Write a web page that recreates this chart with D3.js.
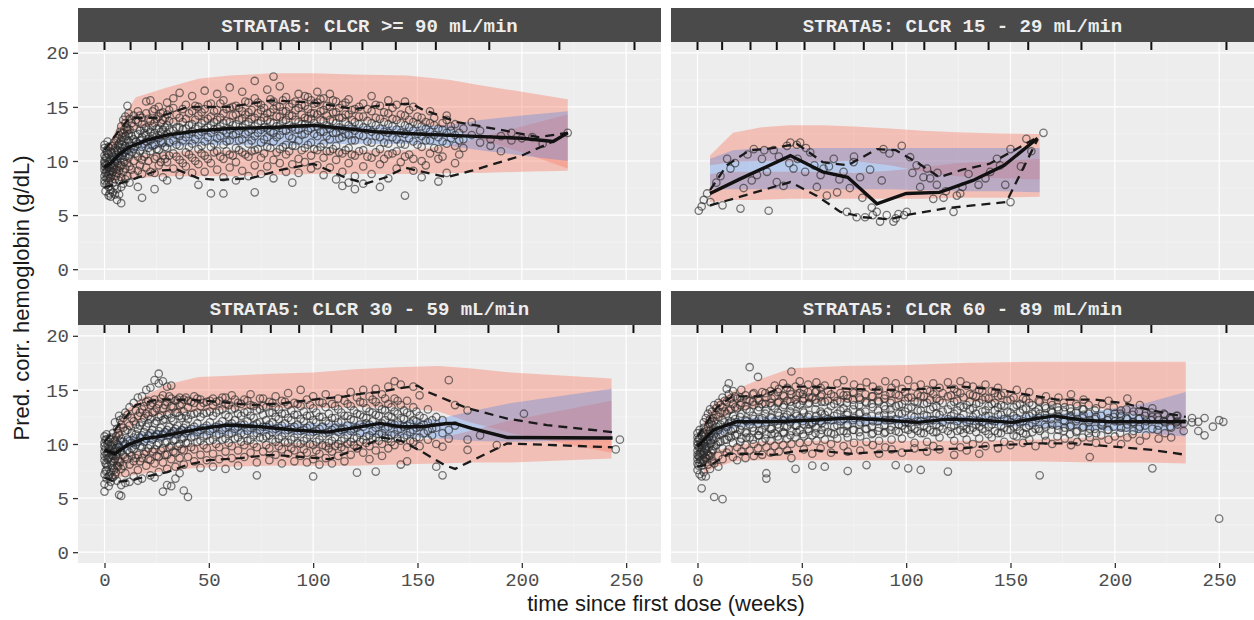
<!DOCTYPE html>
<html><head><meta charset="utf-8">
<script src="https://cdn.jsdelivr.net/npm/d3@7"></script>
<style>html,body{margin:0;padding:0;background:#fff}svg{display:block}</style>
</head><body>
<svg id="chart" width="1254" height="620"></svg>
<script>
// ================= DATA =================
const panelTitles = ["STRATA5: CLCR >= 90 mL/min","STRATA5: CLCR 15 - 29 mL/min","STRATA5: CLCR 30 - 59 mL/min","STRATA5: CLCR 60 - 89 mL/min"];
const yTickValues = [0,5,10,15,20];
const xTickValues = [0,50,100,150,200,250];
const xTitle = "time since first dose (weeks)";
const yTitle = "Pred. corr. hemoglobin (g/dL)";

// bin separators shown as rug ticks at top of each panel (weeks)
const binEdges90 = [0,12.5,24.5,37.3,50,63.7,75.7,84.4,93.2,108.4,123.6,139.6,158.8,184.4,218,254];
const binEdgesOther = [0,11.8,25.4,38,51.3,65.6,79.7,93.3,108.7,123.7,139.5,158.5,184,217.5,253.5];

// ---- observations: rows of [week, value, value, ...] ----
const obs90 = [
[0,9.2,9.8,10.5,11.2,8.6,7.9,10.0,9.5,11.5,8.2],[1,9.0,9.6,10.3,7.8,11.0,8.4,10.8,9.3],[2,8.8,9.9,10.6,7.6,6.8,11.3,9.4,8.1],
[3,9.1,10.1,8.5,7.3,6.7,10.9,9.7],[4,9.6,10.4,8.0,11.4,7.1,9.0],[5,9.8,10.9,8.3,11.2,7.7,10.0,6.9],[6,10.2,11.0,8.9,9.4,12.1,7.4,6.4],
[7,10.5,11.6,9.1,12.4,8.2,6.9],[8,10.9,9.6,11.9,13.2,8.5,7.6,6.1],[9,11.2,10.1,12.6,9.0,13.8,7.9],[10,11.4,12.3,10.4,9.3,13.5,8.3,14.1],
[11,11.0,12.8,9.8,13.0,8.6,15.1],[12,11.7,10.6,12.9,13.9,9.5,8.0],[14,12.0,11.1,13.2,10.0,14.2,8.7],[16,11.6,12.5,10.4,13.6,9.1,14.6,7.6],
[18,12.2,11.3,13.4,10.1,14.0,8.8,6.6],[20,12.4,11.8,13.1,10.6,14.4,9.4,15.5],[22,11.9,12.7,10.9,13.7,9.0,15.6],[24,12.6,11.5,13.5,10.2,14.8,8.9,7.4],
[26,12.1,13.0,11.0,14.1,9.6,15.0],[28,12.9,11.7,13.8,10.5,14.5,8.5],[30,12.5,13.3,11.2,14.3,9.9,15.4,8.2],[33,12.8,11.9,13.6,10.7,14.9,9.3,15.8],
[36,12.3,13.1,11.4,14.0,10.1,8.7,16.3],[39,13.0,12.2,13.9,10.8,15.2,9.5],[42,12.7,13.4,11.6,14.6,10.3,8.9,16.0],[45,13.2,12.4,14.2,11.1,15.0,9.7,7.8],
[48,12.9,13.7,11.8,14.8,10.5,9.0,16.5],[51,13.3,12.6,14.1,11.3,15.3,9.8,7.0],[54,13.0,12.1,13.8,10.9,14.7,9.2,16.2],[57,13.5,12.8,14.4,11.5,15.6,10.2,8.5,7.0],
[60,12.9,13.6,11.9,14.9,10.6,9.4,16.8],[63,13.4,12.5,14.3,11.2,15.1,9.9,8.2],[66,13.1,13.9,12.0,14.6,10.8,9.1,16.4],[69,13.6,12.7,14.5,11.6,15.4,10.4,8.6],
[72,13.2,12.3,14.0,11.0,15.8,9.6,7.1,17.4],[75,13.7,12.9,14.7,11.7,15.2,10.3,8.8],[78,13.0,13.8,12.2,14.4,11.3,9.5,16.6],[81,13.5,12.6,14.8,11.8,15.5,10.1,8.4,17.8],
[84,13.3,14.1,12.4,15.0,11.1,9.8,16.9],[87,13.8,12.8,14.6,11.5,15.9,10.6,9.0],[90,13.1,14.2,12.1,15.3,11.4,9.7,8.0],[93,13.6,12.9,14.9,11.9,16.2,10.2,8.9],
[96,13.4,14.0,12.5,15.1,11.2,9.9,16.0],[99,13.9,13.0,14.4,11.7,15.6,10.5,9.3],[102,13.2,14.3,12.3,15.4,11.0,9.6,16.4],[105,13.7,12.7,14.7,11.6,15.8,10.3,8.7],
[108,13.0,13.8,12.0,15.0,10.9,9.4,16.2],[111,13.5,12.6,14.5,11.4,15.5,10.1,8.3],[114,12.9,14.0,12.2,15.2,10.7,9.0,7.7],[117,13.3,12.4,14.3,11.2,15.7,9.8,8.0],
[120,12.8,13.6,11.9,14.8,10.5,8.6,7.4],[124,13.1,12.3,14.1,11.0,15.3,9.5,7.9],[128,12.7,13.5,11.7,14.6,10.3,8.8,16.0],[132,13.0,12.2,13.9,11.1,15.1,9.7,7.6],
[136,12.6,13.4,11.6,14.4,10.6,8.4,15.6],[140,12.9,12.0,13.8,10.9,15.2,9.3],[144,12.5,13.3,11.5,14.2,10.4,15.5,6.8],[148,12.8,11.8,13.6,10.2,15.0,9.1],
[152,12.3,13.2,11.3,14.0,10.0,8.5],[156,12.7,11.9,13.5,10.7,14.6],[160,12.2,13.0,11.1,8.1,10.2],[164,12.6,11.6,13.8,8.9,14.2],
[168,12.4,13.4,11.4,9.8],[172,12.0,11.2,13.0],[180,11.7,12.8],[190,12.3,10.9],[200,12.1],[210,11.6],[222,12.6],
[0.5,10.3,8.9,9.7,7.2],[1.5,9.4,10.7,8.6,11.8],[2.5,10.0,9.0,8.4,7.0],[3.5,9.5,10.8,8.7],[4.5,10.1,9.3,11.7],[5.5,10.6,9.2,11.9,8.6],
[6.5,10.9,9.8,11.4],[7.5,11.2,10.2,12.7,9.4],[8.5,11.5,10.5,12.2],[9.5,11.8,10.8,12.9,9.9],[10.5,12.0,11.0,13.1],[11.5,11.9,10.3,12.5,14.4],
[13,12.3,11.4,13.5,10.8,9.2],[15,12.4,11.8,10.7,13.8],[17,12.8,11.9,10.9,14.2,9.6],[19,12.6,11.6,13.0,10.4],[21,12.9,12.0,11.2,13.9,10.0],
[23,12.3,13.2,11.4,14.6],[25,13.0,12.2,11.1,13.9,10.4],[27,12.7,13.5,11.8,14.4,9.9],[29,13.1,12.4,11.3,14.0,10.2],[31,12.9,13.7,11.7,10.5,14.7],
[34.5,13.1,12.4,11.5,14.3,10.4],[37.5,12.9,13.6,11.9,14.8,9.8],[40.5,13.3,12.5,11.3,14.4,10.6],[43.5,13.0,13.8,12.0,15.1,10.0],
[46.5,13.5,12.7,11.4,14.5,10.7],[49.5,13.1,13.9,12.2,15.2,10.2],[52.5,13.6,12.9,11.6,14.6,10.8],[55.5,13.2,14.0,12.3,15.3,10.4],
[58.5,13.7,12.6,11.8,14.8,10.9],[61.5,13.3,14.2,12.4,15.0,10.5],[64.5,13.8,12.8,11.9,14.9,11.0],[67.5,13.4,14.3,12.5,15.5,10.6],
[70.5,13.9,12.9,11.9,14.7,10.9],[73.5,13.5,14.4,12.6,15.4,11.1],[76.5,14.0,13.1,12.0,14.9,10.7],[79.5,13.6,14.5,12.7,15.7,11.2],
[82.5,14.1,13.2,12.2,15.1,10.8],[85.5,13.7,14.6,12.8,15.6,11.3],[88.5,14.2,13.3,12.3,15.0,10.9],[91.5,13.8,14.7,12.9,15.5,11.4],
[94.5,14.3,13.4,12.4,15.2,11.0],[97.5,13.9,14.8,12.8,15.9,11.5],[100.5,14.4,13.5,12.5,15.3,11.1],[103.5,13.8,14.6,12.7,15.7,11.3],
[106.5,14.2,13.3,12.3,15.1,10.9],[109.5,13.7,14.5,12.6,15.6,11.1],[112.5,14.0,13.1,12.1,14.9,10.8],[115.5,13.6,14.3,12.5,15.4,11.0],
[118.5,13.8,13.0,11.9,14.7,10.6],[122,13.4,14.1,12.4,15.0,10.9],[126,13.7,12.9,11.8,14.8,10.4],[130,13.3,14.0,12.3,15.2,10.8],
[134,13.6,12.7,11.7,14.5,10.2],[138,13.2,13.9,12.2,14.9,10.7],[142,13.5,12.6,11.6,14.3,9.9],[146,13.1,13.8,12.1,14.7,10.6],
[150,13.4,12.5,11.5,14.1],[154,13.0,13.6,11.9,9.6],[158,13.3,12.4,11.2,14.0],[162,12.9,13.5,11.8,10.4],[166,12.8,12.1,13.2],
[170,12.6,11.9,10.6],[176,12.4,13.6],[185,12.0,11.4],[195,12.6,11.9],[205,12.2]
];
const obs29 = [
[0.6,5.4],[2,5.8],[3,6.4],[4.6,7.0],[6.2,6.2],[9,8.0],[11,8.6],[12,5.9],[14.2,10.2],[15.8,9.3],[18,9.8],[20.6,5.6],[22.1,7.5],[24,10.6],
[26,8.2],[27,11.1],[28.5,8.7],[30.9,10.2],[32,11.0],[33.3,9.0],[34.1,5.4],[36.5,11.0],[38,8.05],[39,10.4],[41.2,7.7],[42.9,11.4],[44,9.8],
[44.5,11.7],[46,9.3],[47.6,11.5],[48,10.2],[49.2,11.7],[51.6,9.0],[52,11.2],[54,10.8],[56,9.6],[57.2,7.6],[59,8.7],[60.4,9.3],[62,6.8],
[63,9.5],[65.3,10.2],[66.9,7.1],[68,8.3],[70,9.0],[71.6,5.3],[73,7.5],[74.8,9.9],[75,10.4],[76.3,4.8],[77.9,8.5],[79,6.6],[80.3,4.8],
[82.7,9.2],[83.5,5.7],[84,5.0],[85.9,5.3],[87.5,4.4],[88.3,8.2],[89.1,11.1],[90.7,5.0],[92,10.7],[93.9,4.4],[95,4.7],[96.3,5.1],[97.9,11.4],
[99,5.0],[100.3,5.3],[101.9,10.35],[103,8.9],[105,9.6],[106.7,7.6],[108.3,8.5],[110,9.3],[111.5,8.4],[113,6.5],[114.7,7.8],[115,8.9],
[117.9,6.6],[119,7.2],[122.7,5.3],[124.3,6.8],[125.9,7.0],[127,7.6],[129.9,8.8],[134.7,7.8],[138,8.4],[140.3,9.0],[143.5,10.2],[145,9.6],
[147.5,7.8],[150,6.2,11.1],[155,9.5],[157.6,12.05],[160,10.9],[165.8,12.6]
];
const obs59 = [
[0,9.3,10.1,8.5,10.7,7.2,6.3,9.8,5.6,8.9],[1,9.0,10.4,8.1,7.6,10.9,6.8],[2,8.7,9.6,7.0,10.2,6.1,9.2],[3,9.4,8.3,10.6,7.4,6.5],
[4,8.9,9.9,7.8,11.0,6.9],[5,8.6,9.5,10.3,7.1,12.0],[6,9.1,10.0,8.0,11.4,6.6],[7,9.7,8.4,10.8,5.3,12.6],[8,9.3,10.5,7.7,11.8,5.2,6.2],
[10,10.0,8.8,11.2,7.3,12.9,6.4],[12,10.3,9.2,11.7,8.1,13.4,6.5],[14,10.6,9.5,12.1,8.4,13.8,7.0],[16,10.2,11.4,9.0,12.6,7.6,14.3,6.6],
[18,10.8,9.7,12.0,8.7,13.2,14.4,6.8],[20,10.5,11.6,9.3,12.8,8.0,13.9,15.0],[22,11.0,9.9,12.3,8.5,13.6,7.1,15.2],[24,10.7,11.9,9.5,13.0,8.2,14.1,15.9,6.9],
[26,11.2,10.1,12.5,8.8,13.7,7.4,15.6,16.5],[28,10.9,12.2,9.6,13.3,8.3,14.5,5.6,15.8],[30,11.3,10.2,12.7,9.0,13.9,7.7,15.3,6.2],
[32,11.0,12.4,9.8,13.5,8.6,14.2,6.1,15.4],[34,11.4,10.4,12.9,9.2,14.0,7.9,6.8],[36,11.1,12.6,10.0,13.6,8.7,14.3,7.3],[38,11.5,10.6,13.0,9.4,14.1,8.1,5.7],
[40,11.2,12.3,10.1,13.4,8.8,14.0,5.1],[43,11.6,10.7,12.8,9.5,13.8,8.4,14.4],[46,11.3,12.5,10.3,13.5,9.0,14.1,7.8],[49,11.7,10.8,12.9,9.6,13.9,8.5],
[52,11.4,12.6,10.4,13.6,9.1,14.2,7.9],[55,11.8,10.9,13.1,9.7,14.0,8.6],[58,11.5,12.7,10.5,13.7,9.3,14.3,7.7],[61,11.9,11.0,13.2,9.8,14.5,8.7],
[64,11.6,12.8,10.6,13.8,9.4,8.0],[67,11.8,10.9,12.9,9.9,14.1,8.8],[70,11.5,12.6,10.4,13.6,9.2,14.6],[73,11.9,11.0,13.1,9.7,8.3,7.1],
[76,11.6,12.7,10.5,13.5,9.3,14.2],[79,11.8,10.8,12.9,9.6,13.9,8.5],[82,11.4,12.5,10.2,13.4,9.0,14.4],[85,11.7,10.7,12.8,9.5,14.0,8.2],
[88,11.3,12.4,10.1,13.6,9.1,14.7],[91,11.6,10.6,12.7,9.4,13.8,8.4],[94,11.2,12.3,10.0,13.5,8.9,15.0],[97,11.5,10.5,12.6,9.2,14.1,8.3],
[100,11.1,12.2,9.9,13.3,8.6,14.4,7.0],[103,11.4,10.4,12.5,9.1,13.9,8.1],[106,11.0,12.1,9.8,13.4,8.7,14.6],[109,11.3,10.3,12.4,9.3,13.7,8.2],
[112,11.1,12.0,10.0,13.2,8.9,14.2],[115,11.4,10.5,12.6,9.5,14.0,8.4],[118,11.2,12.3,10.2,13.5,9.0,14.8],[121,11.5,10.6,12.8,9.6,14.3,7.35],
[124,11.6,12.5,10.4,13.8,9.2,15.0],[127,11.8,10.8,13.0,9.8,14.4,8.6],[130,11.5,12.7,10.6,13.9,9.4,15.1,7.45],[133,11.9,11.0,13.2,10.0,14.6,8.9],
[136,11.6,12.6,10.5,13.7,9.6,15.3],[139,11.8,10.9,13.0,9.9,14.2,15.8],[142,11.4,12.4,10.3,13.6,8.1,15.5],[145,11.7,10.8,12.9,9.7,14.0,8.4],
[148,11.3,12.2,10.2,13.4,15.3],[151,11.6,10.6,12.6,9.8,14.5],[155,11.2,12.0,10.4,13.2],[159,11.5,7.9,10.0,12.5],[162,11.0,7.1,9.75,12.2],
[165,15.9,11.3,10.5],[168,11.7,13.6],[174,10.4,9.45,13.1],[180,10.8],[188,9.9],[201,12.8],[245,9.5],[247,10.4],
[0.5,9.6,8.2,10.4,7.5],[1.5,9.2,10.0,8.6,7.9],[2.5,9.5,8.8,10.5,7.2],[3.5,9.0,9.8,8.0,6.9],[4.5,9.3,10.2,8.4,7.6],[5.5,9.6,8.9,10.7,7.4],
[6.5,9.9,8.6,11.0,7.9],[7.5,9.4,10.3,8.3,12.2],[9,10.2,9.0,11.5,8.0,12.4],[11,10.4,9.4,11.3,8.6,12.7],[13,10.1,11.0,9.6,12.4,8.9],
[15,10.9,9.9,11.8,8.7,13.1],[17,10.6,11.7,9.8,12.9,8.4],[19,11.1,10.2,12.4,9.1,13.5],[21,10.8,11.9,9.6,12.6,8.6,14.0],[23,11.3,10.4,12.9,9.3,13.8],
[25,10.9,12.1,9.9,13.3,8.9],[27,11.5,10.6,12.6,9.4,14.2],[29,11.1,12.3,10.1,13.6,9.0],[31,11.6,10.8,12.8,9.7,14.4],[33,11.2,12.1,10.3,13.4,9.3],
[35,11.7,10.9,12.9,9.8,14.1],[37,11.3,12.4,10.5,13.7,9.5],[39,11.8,11.0,12.6,10.1,14.3],[41.5,11.4,12.7,10.6,13.9,9.7],[44.5,11.9,11.1,12.9,10.2,14.2],
[47.5,11.5,12.8,10.7,13.8,9.9],[50.5,12.0,11.2,13.0,10.3,14.0],[53.5,11.6,12.9,10.8,13.9,10.0],[56.5,12.1,11.3,13.2,10.4,14.3],
[59.5,11.7,12.5,10.9,13.6,10.1],[62.5,12.2,11.4,13.3,10.5,14.1],[65.5,11.8,12.6,11.0,13.7,10.2],[68.5,12.1,11.2,13.0,10.3,14.0],
[71.5,11.7,12.4,10.8,13.5,10.0],[74.5,12.0,11.3,13.2,10.6,14.2],[77.5,11.6,12.2,10.7,13.4,9.9],[80.5,12.0,11.1,12.9,10.4,13.8],
[83.5,11.5,12.3,10.5,13.2,9.8],[86.5,11.9,11.0,12.8,10.2,13.9],[89.5,11.4,12.2,10.4,13.1,9.6],[92.5,11.8,10.9,12.7,10.1,13.7],
[95.5,11.3,12.1,10.3,13.0,9.5],[98.5,11.7,10.8,12.6,10.0,13.6],[101.5,11.2,12.0,10.2,12.9,9.4],[104.5,11.6,10.7,12.5,9.9,13.8],
[107.5,11.1,11.9,10.1,12.8,9.6],[110.5,11.5,10.6,12.4,9.8,13.5],[113.5,11.3,12.1,10.3,12.9,9.7],[116.5,11.7,10.8,12.6,10.0,13.7],
[119.5,11.4,12.2,10.5,13.1,9.9],[122.5,11.8,11.0,12.7,10.2,13.9],[125.5,11.9,12.4,10.7,13.3,10.1],[128.5,12.1,11.2,12.9,10.4,14.1],
[131.5,11.8,12.6,10.9,13.5,10.3],[134.5,12.2,11.4,13.1,10.6,14.2],[137.5,11.9,12.5,10.8,13.4,10.2],[140.5,12.0,11.3,12.8,10.5,14.0],
[143.5,11.6,12.3,10.6,13.1],[146.5,11.9,11.1,12.7,10.3],[149.5,11.5,12.1,10.6,13.0],[153,11.8,11.0,12.4],[157,11.4,12.2,10.8]
];
const obs89 = [
[0,9.4,10.2,8.6,9.9,7.6,11.0,8.2,9.0,10.6],[1,9.1,10.5,8.3,7.2,9.7,11.3,8.8],[2,9.6,8.0,10.8,7.0,5.9,9.3],[3,9.2,10.1,8.5,11.5,7.4,12.0],
[4,9.8,8.7,10.9,7.0,12.4,9.5],[5,10.3,9.0,11.6,8.1,12.8],[6,10.0,11.2,8.9,12.3,7.7,13.2],[7,10.6,9.4,11.8,8.4,13.0],[8,10.9,9.8,12.1,8.2,13.6,5.1],
[10,11.3,10.2,12.5,8.9,13.8,7.9],[12,11.0,12.2,9.6,13.4,8.6,14.3,4.9],[14,11.6,10.4,12.8,9.2,13.9,15.1],[15,11.9,10.7,13.1,9.5,14.6,15.6],
[17,11.4,12.6,10.1,13.7,8.8,14.9],[19,12.0,10.9,13.3,9.7,14.2,8.5],[21,11.7,12.8,10.5,13.8,9.3,15.0],[23,12.2,11.1,13.5,9.9,14.5,8.7],
[25,11.8,13.0,10.6,14.0,9.4,17.1],[27,12.3,11.2,13.6,10.0,14.7,8.9],[29,11.9,13.1,10.8,14.2,9.6,16.2],[31,12.4,11.3,13.7,10.2,14.8,9.0],
[33,12.0,13.2,10.9,14.3,7.3,6.8,9.7],[35,12.5,11.4,13.8,10.3,14.9,9.2],[37,12.1,13.3,11.0,14.4,9.8,15.4],[39,12.6,11.5,13.9,10.4,15.1,9.3],
[41,12.2,13.4,11.1,14.5,9.9,15.6],[43,12.7,11.6,14.0,10.5,15.2,9.4],[45,12.3,13.5,11.2,14.6,10.0,16.7,8.7],[47,12.8,11.7,14.1,10.6,15.3,7.7],
[49,12.4,13.6,11.3,14.7,10.1,15.8],[51,12.9,11.8,14.2,10.7,15.0,9.5],[53,12.5,13.7,11.4,14.8,10.2,15.5],[55,12.0,11.9,14.3,10.8,8.0,9.1],
[57,12.6,13.8,11.5,14.9,10.3,15.7],[59,12.1,13.0,14.4,10.9,15.2,9.6],[61,12.7,11.6,13.9,10.4,7.9,15.4],[64,12.2,13.5,11.0,14.6,10.0,9.2],
[67,12.8,11.7,14.0,10.5,15.6],[70,12.3,13.3,11.2,14.5,9.8,15.9],[72,12.9,11.8,14.2,10.6,7.5,9.3],[75,12.4,13.6,11.3,14.7,10.1,15.5],
[78,12.0,12.9,14.1,10.7,15.2,9.4],[81,12.5,11.4,13.8,10.2,8.05,15.7],[84,12.1,13.4,11.0,14.4,9.9,15.3],[87,12.6,11.5,13.9,10.3,15.0,9.1],
[90,12.2,13.2,11.1,14.5,9.7,15.8],[93,12.7,11.6,14.0,10.4,15.2,9.5],[95,12.3,13.5,11.2,14.6,8.05,15.6],[98,12.8,11.7,13.7,10.5,15.1,9.2],
[101,12.0,13.3,11.3,14.3,7.75,15.9],[104,12.5,11.4,13.9,10.1,15.3,9.6],[107,12.1,13.1,11.0,14.4,7.6,15.5],[110,12.6,11.5,13.8,10.2,15.0,9.3],
[113,12.2,13.4,11.1,14.6,9.8,15.6],[116,12.7,11.6,14.0,10.6,15.2,9.5],[120,12.3,13.2,11.2,14.4,7.45,15.7],[123,12.8,11.7,13.9,10.3,15.1,9.0],
[126,12.4,13.5,11.3,14.7,9.7,15.8],[129,12.0,11.4,13.6,10.4,15.4,9.4],[132,12.5,13.3,11.5,14.5,10.0,15.3],[135,12.1,11.6,13.8,10.5,15.0,9.1],
[138,12.6,13.1,11.2,14.3,9.8,15.5],[141,12.2,11.8,13.7,10.6,14.9],[144,12.7,13.4,11.0,14.4,9.6,15.2],[147,12.3,11.5,13.5,10.2,14.7],
[150,12.0,12.9,11.3,14.1,9.9],[153,12.4,11.6,13.6,10.7,15.0],[156,12.1,13.2,11.0,14.2,10.1],[159,12.6,11.7,13.8,10.4,14.8],
[162,12.2,13.0,11.4,9.8],[164,12.8,11.2,7.1,13.9],[167,12.4,13.3,11.6,10.3,14.4],[170,12.9,11.8,13.6,10.0],[173,12.5,13.1,11.3,14.3],
[176,12.1,11.5,13.4,10.5],[179,12.6,13.0,11.7,14.6,9.9],[182,12.3,11.2,13.5,10.2],[185,12.7,11.6,13.2,14.1],[188,12.2,11.4,10.6,8.8],
[191,12.5,13.3,11.0,10.1],[194,12.0,11.7,13.7],[197,12.4,11.3,10.4,14.0],[200,12.1,12.8,10.7],[203,12.6,11.5,13.1,10.0],[206,12.3,11.8,14.2,10.6],
[209,12.0,13.0,11.2],[212,12.4,11.6,13.6,10.3],[215,12.1,12.9,10.8],[218,12.5,11.4,7.75,13.3],[221,12.2,11.7,10.5],[224,12.0,12.7,11.0],
[227,12.3,11.5,10.6],[230,12.1,11.8,12.6],[233,11.9,11.2],[237,12.4,12.0],[240,12.05,11.2],[243,12.4,10.8],[247,11.6],[250,12.2,3.1],[252,12.05],
[0.5,9.7,8.9,10.4,8.0],[1.5,9.9,8.5,10.1,9.2],[2.5,9.0,10.3,8.4,11.1],[3.5,10.0,8.8,10.7,9.6],[4.5,10.4,9.3,11.2,8.6],[5.5,10.7,9.7,11.9,8.9],
[6.5,11.0,10.1,12.0,9.2],[7.5,11.3,10.4,12.4,9.5],[9,11.6,10.6,12.7,9.9,13.3],[11,11.8,10.9,12.9,10.2,13.6],[13,12.0,11.1,13.0,10.4,14.0],
[16,12.1,11.2,13.2,10.6,14.2],[18,12.3,11.4,13.4,10.8,14.4],
[20.5,12.5,11.3,13.6,10.2,14.3],[23.5,12.1,13.2,11.0,14.1,10.6],[26.5,12.6,11.5,13.9,10.4,14.6],[29.5,12.3,13.4,11.2,14.0,10.8],
[32.5,12.8,11.7,13.7,10.5,14.7],[35.5,12.4,13.5,11.4,14.2,10.9],[38.5,12.9,11.8,13.8,10.7,14.8],[41.5,12.5,13.6,11.6,14.4,11.0],
[44.5,13.0,12.0,13.9,10.8,14.9],[47.5,12.6,13.7,11.7,14.5,11.1],[50.5,13.1,12.1,14.0,10.9,14.6],[53.5,12.7,13.8,11.8,14.3,11.2],
[56.5,13.2,12.2,14.1,11.0,14.8],[59.5,12.8,13.9,11.9,14.6,11.3],[62.5,13.0,12.3,14.0,11.1,14.9],[65.5,12.6,13.7,11.6,14.4,10.9],
[68.5,13.1,12.1,13.9,11.2,14.7],[71.5,12.7,13.8,11.7,14.5,11.0],[74.5,13.2,12.2,14.1,11.3,14.8],[77.5,12.8,13.6,11.8,14.3,11.1],
[80.5,13.0,12.0,13.9,11.4,14.6],[83.5,12.6,13.7,11.6,14.4,10.9],[86.5,13.1,12.1,14.0,11.2,14.9],[89.5,12.7,13.5,11.7,14.2,11.0],
[92.5,13.2,12.2,13.8,11.3,14.7],[96.5,12.8,13.6,11.8,14.5,11.1],[99.5,13.0,12.0,14.0,11.4,14.8],[102.5,12.6,13.4,11.6,14.3,10.9],
[105.5,13.1,12.1,13.9,11.2,14.6],[108.5,12.7,13.7,11.7,14.4,11.0],[111.5,13.2,12.2,14.1,11.3,14.9],[114.5,12.8,13.5,11.8,14.2,11.1],
[117.5,13.0,12.0,13.8,11.4,14.7],[121.5,12.6,13.6,11.6,14.5,10.9],[124.5,13.1,12.1,14.0,11.2,14.8],[127.5,12.7,13.4,11.7,14.3,11.0],
[130.5,13.2,12.2,13.9,11.3,14.6],[133.5,12.8,13.7,11.8,14.4,11.1],[136.5,13.0,12.0,14.1,11.4,14.9],[139.5,12.6,13.5,11.6,14.2,10.9],
[142.5,13.1,12.1,13.8,11.2,14.7],[145.5,12.7,13.6,11.7,14.5,11.0],[148.5,13.0,12.2,14.0,11.3],[151.5,12.6,13.4,11.6,14.3,10.8],
[154.5,12.9,12.0,13.7,11.2],[157.5,12.5,13.3,11.5,14.1,10.9],[160.5,12.8,11.9,13.6,11.1],[163.5,12.4,13.2,11.4,14.0],
[166.5,12.7,11.8,13.5,10.8],[169.5,12.3,13.1,11.3,13.9],[172.5,12.6,11.7,13.4,10.7],[175.5,12.2,13.0,11.2,13.8],
[178.5,12.5,11.6,13.3,10.9],[181.5,12.1,12.9,11.1,13.7],[184.5,12.4,11.5,13.2,10.6],[187.5,12.0,12.8,11.0,13.6],
[190.5,12.3,11.4,13.1],[193.5,12.6,11.8,10.8],[196.5,12.2,12.9,11.3],[199.5,12.5,11.6,13.4],[202.5,12.1,12.8,11.0],
[205.5,12.4,11.5,13.2],[208.5,12.0,12.7,10.9],[211.5,12.3,11.4,13.0],[214.5,12.6,11.7],[217.5,12.2,12.9],[220.5,12.5,11.3],
[223.5,12.1,12.8],[226.5,12.4,11.6],[229.5,12.0,12.6]
];

// ---- observed percentile lines: [week, value] ----
const obsMedian90 = [[0,9.4],[3,9.8],[7,10.6],[12,11.3],[20,11.9],[30,12.4],[45,12.8],[60,13.0],[80,13.1],[100,13.3],[115,13.0],[130,12.7],[150,12.5],[175,12.3],[200,12.1],[215,11.8],[222,12.6]];
const obsP95_90 = [[0,11.0],[5,12.3],[12,14.0],[25,14.0],[40,15.0],[60,15.0],[80,15.6],[100,15.4],[120,14.8],[135,15.2],[147,15.3],[152,14.8],[169,13.6],[192,12.8],[208,12.2],[222,12.6]];
const obsP05_90 = [[0,7.6],[5,7.8],[12,8.2],[25,9.1],[35,9.2],[45,8.4],[55,8.25],[70,8.4],[85,9.2],[100,9.75],[115,8.5],[125,7.9],[135,8.5],[144,9.4],[150,9.1],[164,8.5],[176,9.1],[200,10.5],[216,11.9],[222,12.6]];

const obsMedian29 = [[6,7.0],[20,8.3],[44.5,10.5],[60,9.0],[72,8.5],[86,6.05],[100,7.0],[116,7.1],[132,8.2],[147,9.6],[163,12.1]];
const obsP95_29 = [[6,7.3],[14,9.6],[25,11.0],[33,11.1],[40,11.3],[47.6,11.6],[60,9.9],[72,9.6],[86,11.1],[95,11.0],[105,9.9],[116,8.5],[127,9.2],[140,9.75],[150,10.8],[163,12.2]];
const obsP05_29 = [[6,5.9],[20.6,6.7],[33,7.4],[44.5,8.05],[57,6.8],[68.5,5.3],[79.5,4.8],[92,4.6],[100,5.0],[118,5.6],[132,5.9],[148,6.2],[156,9.3],[163,12.0]];

const obsMedian59 = [[0,9.45],[5,9.1],[11,9.9],[19,10.5],[27,10.7],[35,11.0],[47,11.45],[59,11.75],[75,11.6],[91,11.3],[107,11.1],[123,11.6],[132,11.9],[142,11.6],[152,11.6],[164,11.9],[168,11.9],[176,11.45],[193,10.6],[243.5,10.55]];
const obsP95_59 = [[0,10.2],[8,12.0],[15,13.6],[25,14.1],[40,14.1],[55,13.9],[70,13.6],[85,13.75],[100,14.1],[115,14.4],[125,14.7],[132,14.8],[140,15.1],[150,15.4],[155,14.8],[174,13.3],[193,12.35],[212,11.75],[243.5,11.1]];
const obsP05_59 = [[0,6.9],[5,6.5],[12,6.6],[20,7.0],[30,7.4],[40,8.1],[50,8.5],[65,8.7],[80,9.0],[95,8.8],[108,8.6],[122,9.6],[133,10.6],[142,10.3],[152,9.3],[163,8.05],[168,7.7],[193,10.05],[243.5,9.7]];

const obsMedian89 = [[0,9.75],[7.6,11.3],[18.5,12.05],[36.6,12.05],[54.7,12.2],[72.8,12.4],[91,12.2],[105.4,12.0],[120,12.3],[136,12.2],[150.7,12.0],[170.7,12.6],[185,12.2],[199.6,12.05],[234,12.05]];
const obsP95_89 = [[0,10.7],[9.4,13.4],[16.7,14.4],[29.3,14.4],[42,15.3],[54.7,15.3],[72.8,15.1],[91,15.0],[109,15.1],[127,15.3],[145,15.0],[159.8,14.5],[172.5,14.1],[190.6,14.1],[205,13.75],[217.8,13.1],[234,12.5]];
const obsP05_89 = [[0,7.9],[7.6,8.2],[14.9,9.1],[25.7,9.1],[36.6,9.0],[45.6,9.3],[54.7,9.45],[72.8,9.1],[91,9.3],[109,9.45],[127,9.6],[145,9.9],[163,10.05],[181.5,10.05],[199.6,9.75],[217.8,9.45],[234,9.0]];

// ---- simulated confidence bands ----
const bandWeeks90 = [2,7,15,30,45,60,80,100,120,145,165,180,200,222];
const ciHiHigh90 = [11.5,13.5,15.9,16.8,17.6,17.9,18.1,18.1,18.0,17.9,17.5,17.0,16.4,15.7];
const ciHiLow90  = [10.4,11.8,13.0,13.5,13.6,13.7,13.7,13.7,13.7,13.6,13.0,12.0,10.8,9.3];
const ciLoHigh90 = [9.3,9.8,10.5,10.8,11.0,11.0,11.0,11.0,11.0,11.0,11.4,12.2,13.2,14.3];
const ciLoLow90  = [8.0,8.2,8.4,8.6,8.6,8.6,8.7,8.8,8.8,8.8,8.9,8.9,9.0,9.1];
const ciMedHigh90= [10.1,10.9,11.9,12.5,12.9,13.1,13.2,13.3,13.3,13.2,13.3,13.8,14.2,14.6];
const ciMedLow90 = [9.4,10.1,10.9,11.3,11.5,11.5,11.4,11.5,11.6,11.6,11.4,11.0,10.5,10.0];

const bandWeeks29 = [6,17,30,44,60,75,92,108,124,145,164];
const ciHiHigh29 = [10.5,12.6,13.1,13.3,13.3,13.2,13.0,12.8,12.65,12.55,12.5];
const ciHiLow29  = [9.6,9.9,10.0,9.9,9.9,10.0,9.6,9.0,8.6,8.4,8.3];
const ciLoHigh29 = [8.8,9.0,9.0,9.0,9.0,8.9,9.1,9.4,9.8,10.0,10.2];
const ciLoLow29  = [6.2,6.4,6.4,6.5,6.5,6.5,6.5,6.5,6.6,6.6,6.7];
const ciMedHigh29= [10.2,11.0,11.2,11.2,11.2,11.2,11.2,11.2,11.2,11.2,11.2];
const ciMedLow29 = [7.4,7.4,7.4,7.4,7.4,7.4,7.4,7.3,7.2,7.2,7.1];

const bandWeeks59 = [4,10,20,30,45,60,80,100,120,140,160,175,195,243];
const ciHiHigh59 = [11.0,13.1,14.5,15.5,16.2,16.3,16.5,16.6,16.9,17.1,17.2,17.0,16.6,16.05];
const ciHiLow59  = [9.8,11.2,12.4,12.8,13.0,13.2,13.3,13.3,13.4,13.4,13.0,12.0,11.0,9.2];
const ciLoHigh59 = [8.8,9.0,9.5,9.8,10.0,10.1,10.1,10.1,10.2,10.3,10.5,11.2,12.2,14.0];
const ciLoLow59  = [6.8,7.0,7.3,7.5,7.8,7.9,8.0,8.0,8.0,8.1,8.2,8.3,8.3,8.65];
const ciMedHigh59= [9.9,10.6,11.1,11.4,11.8,12.0,11.9,11.9,12.0,12.1,12.3,13.0,13.8,15.1];
const ciMedLow59 = [8.8,9.4,10.0,10.4,10.7,10.9,10.9,10.8,10.8,10.7,10.5,10.3,10.2,10.4];

const bandWeeks89 = [3,8,18,30,45,70,100,130,160,190,215,234];
const ciHiHigh89 = [12.0,13.8,15.0,16.0,17.0,17.2,17.3,17.5,17.6,17.6,17.6,17.6];
const ciHiLow89  = [10.5,12.0,13.0,13.5,13.8,13.9,13.9,13.9,13.8,13.4,12.5,11.2];
const ciLoHigh89 = [8.8,9.3,9.9,10.2,10.3,10.3,10.3,10.3,10.4,10.6,11.0,11.6];
const ciLoLow89  = [7.2,7.8,8.4,8.5,8.5,8.5,8.5,8.4,8.4,8.3,8.3,8.2];
const ciMedHigh89= [10.3,11.4,12.3,12.5,12.6,12.6,12.6,12.6,12.7,13.0,13.8,14.8];
const ciMedLow89 = [9.3,10.6,11.5,11.7,11.8,11.8,11.8,11.8,11.6,11.3,11.0,10.7];

// ================= CHART =================
const panels = [
  {title:panelTitles[0], col:0,row:0, obs:obs90, med:obsMedian90, p95:obsP95_90, p05:obsP05_90, bins:binEdges90,
   bw:bandWeeks90, hiH:ciHiHigh90, hiL:ciHiLow90, loH:ciLoHigh90, loL:ciLoLow90, mH:ciMedHigh90, mL:ciMedLow90},
  {title:panelTitles[1], col:1,row:0, obs:obs29, med:obsMedian29, p95:obsP95_29, p05:obsP05_29, bins:binEdgesOther,
   bw:bandWeeks29, hiH:ciHiHigh29, hiL:ciHiLow29, loH:ciLoHigh29, loL:ciLoLow29, mH:ciMedHigh29, mL:ciMedLow29},
  {title:panelTitles[2], col:0,row:1, obs:obs59, med:obsMedian59, p95:obsP95_59, p05:obsP05_59, bins:binEdgesOther,
   bw:bandWeeks59, hiH:ciHiHigh59, hiL:ciHiLow59, loH:ciLoHigh59, loL:ciLoLow59, mH:ciMedHigh59, mL:ciMedLow59},
  {title:panelTitles[3], col:1,row:1, obs:obs89, med:obsMedian89, p95:obsP95_89, p05:obsP05_89, bins:binEdgesOther,
   bw:bandWeeks89, hiH:ciHiHigh89, hiL:ciHiLow89, loH:ciLoHigh89, loL:ciLoLow89, mH:ciMedHigh89, mL:ciMedLow89}
];

const svg = d3.select("#chart");
const colX = [78, 671], panelW = 583;
const rowStripY = [8, 291], stripH = 34, panelH = 238;
const xDomain = [-12.7, 266.7], yDomain = [-1, 21];
const monoFont = "'Liberation Mono','Courier New',monospace";
const sansFont = "'Liberation Sans',Arial,Helvetica,sans-serif";
const redFill = "#F8806A", redOp = 0.42, blueFill = "#3F7BE8", blueOp = 0.3;

panels.forEach(p => {
  const x0 = colX[p.col], sy = rowStripY[p.row], py0 = sy + stripH;
  const x = d3.scaleLinear().domain(xDomain).range([x0, x0 + panelW]);
  const y = d3.scaleLinear().domain(yDomain).range([py0 + panelH, py0]);
  const g = svg.append("g");
  const clipId = "clip" + p.col + p.row;
  svg.append("clipPath").attr("id", clipId).append("rect")
    .attr("x", x0).attr("y", py0).attr("width", panelW).attr("height", panelH);

  g.append("rect").attr("x", x0).attr("y", py0).attr("width", panelW).attr("height", panelH).attr("fill", "#EDEDED");
  const xMinor = [25,75,125,175,225], yMinor = [2.5,7.5,12.5,17.5];
  g.selectAll(null).data(xMinor).join("line").attr("x1", d=>x(d)).attr("x2", d=>x(d)).attr("y1", py0).attr("y2", py0+panelH)
    .attr("stroke", "#F7F7F7").attr("stroke-width", 0.6);
  g.selectAll(null).data(yMinor).join("line").attr("y1", d=>y(d)).attr("y2", d=>y(d)).attr("x1", x0).attr("x2", x0+panelW)
    .attr("stroke", "#F7F7F7").attr("stroke-width", 0.6);
  g.selectAll(null).data(xTickValues).join("line").attr("x1", d=>x(d)).attr("x2", d=>x(d)).attr("y1", py0).attr("y2", py0+panelH)
    .attr("stroke", "#FFFFFF").attr("stroke-width", 1.2);
  g.selectAll(null).data(yTickValues).join("line").attr("y1", d=>y(d)).attr("y2", d=>y(d)).attr("x1", x0).attr("x2", x0+panelW)
    .attr("stroke", "#FFFFFF").attr("stroke-width", 1.2);

  const inner = g.append("g").attr("clip-path", `url(#${clipId})`);
  const idx = d3.range(p.bw.length);
  const band = (lo, hi) => d3.area().x(i => x(p.bw[i])).y0(i => y(lo[i])).y1(i => y(hi[i]))(idx);
  inner.append("path").attr("d", band(p.hiL, p.hiH)).attr("fill", redFill).attr("fill-opacity", redOp);
  inner.append("path").attr("d", band(p.loL, p.loH)).attr("fill", redFill).attr("fill-opacity", redOp);
  inner.append("path").attr("d", band(p.mL, p.mH)).attr("fill", blueFill).attr("fill-opacity", blueOp);

  const pts = p.obs.flatMap(([w, ...vs]) => vs.map(v => ({w, v})));
  inner.append("g").selectAll("circle").data(pts).join("circle")
    .attr("cx", d => x(d.w)).attr("cy", d => y(d.v)).attr("r", 3.7)
    .attr("fill", "none").attr("stroke", "#2a2a2a").attr("stroke-opacity", 0.62).attr("stroke-width", 1.3);

  const line = d3.line().x(d => x(d[0])).y(d => y(d[1]));
  [p.p95, p.p05].forEach(arr => inner.append("path").attr("d", line(arr)).attr("fill", "none")
    .attr("stroke", "#1a1a1a").attr("stroke-width", 2.3).attr("stroke-dasharray", "9,6"));
  inner.append("path").attr("d", line(p.med)).attr("fill", "none").attr("stroke", "#111").attr("stroke-width", 3.4);

  g.selectAll(null).data(p.bins).join("line").attr("x1", d=>x(d)).attr("x2", d=>x(d))
    .attr("y1", py0).attr("y2", py0 + 8).attr("stroke", "#111").attr("stroke-width", 2);

  g.append("rect").attr("x", x0).attr("y", sy).attr("width", panelW).attr("height", stripH).attr("fill", "#4A4A4A");
  g.append("text").attr("x", x0 + panelW/2).attr("y", sy + stripH/2).attr("dy", "0.36em")
    .attr("text-anchor", "middle").attr("fill", "#EDEDED").attr("font-family", monoFont)
    .attr("font-weight", "bold").attr("font-size", 19).text(p.title);

  if (p.col === 0) {
    const ax = g.append("g").attr("transform", `translate(${x0},0)`)
      .call(d3.axisLeft(y).tickValues(yTickValues).tickSize(5).tickPadding(4));
    ax.select(".domain").remove();
    ax.selectAll("line").attr("stroke", "#333").attr("stroke-width", 1.3);
    ax.selectAll("text").attr("font-family", monoFont).attr("font-size", 19).attr("fill", "#4D4D4D");
  }
  if (p.row === 1) {
    const ax = g.append("g").attr("transform", `translate(0,${py0 + panelH})`)
      .call(d3.axisBottom(x).tickValues(xTickValues).tickSize(5).tickPadding(5));
    ax.select(".domain").remove();
    ax.selectAll("line").attr("stroke", "#333").attr("stroke-width", 1.3);
    ax.selectAll("text").attr("font-family", monoFont).attr("font-size", 19).attr("fill", "#4D4D4D");
  }
});

svg.append("text").attr("x", 666).attr("y", 611).attr("text-anchor", "middle")
  .attr("font-family", sansFont).attr("font-size", 22).attr("fill", "#1a1a1a").text(xTitle);
svg.append("text").attr("transform", "translate(29,298) rotate(-90)").attr("text-anchor", "middle")
  .attr("font-family", sansFont).attr("font-size", 22).attr("fill", "#1a1a1a").text(yTitle);
</script>
</body></html>
